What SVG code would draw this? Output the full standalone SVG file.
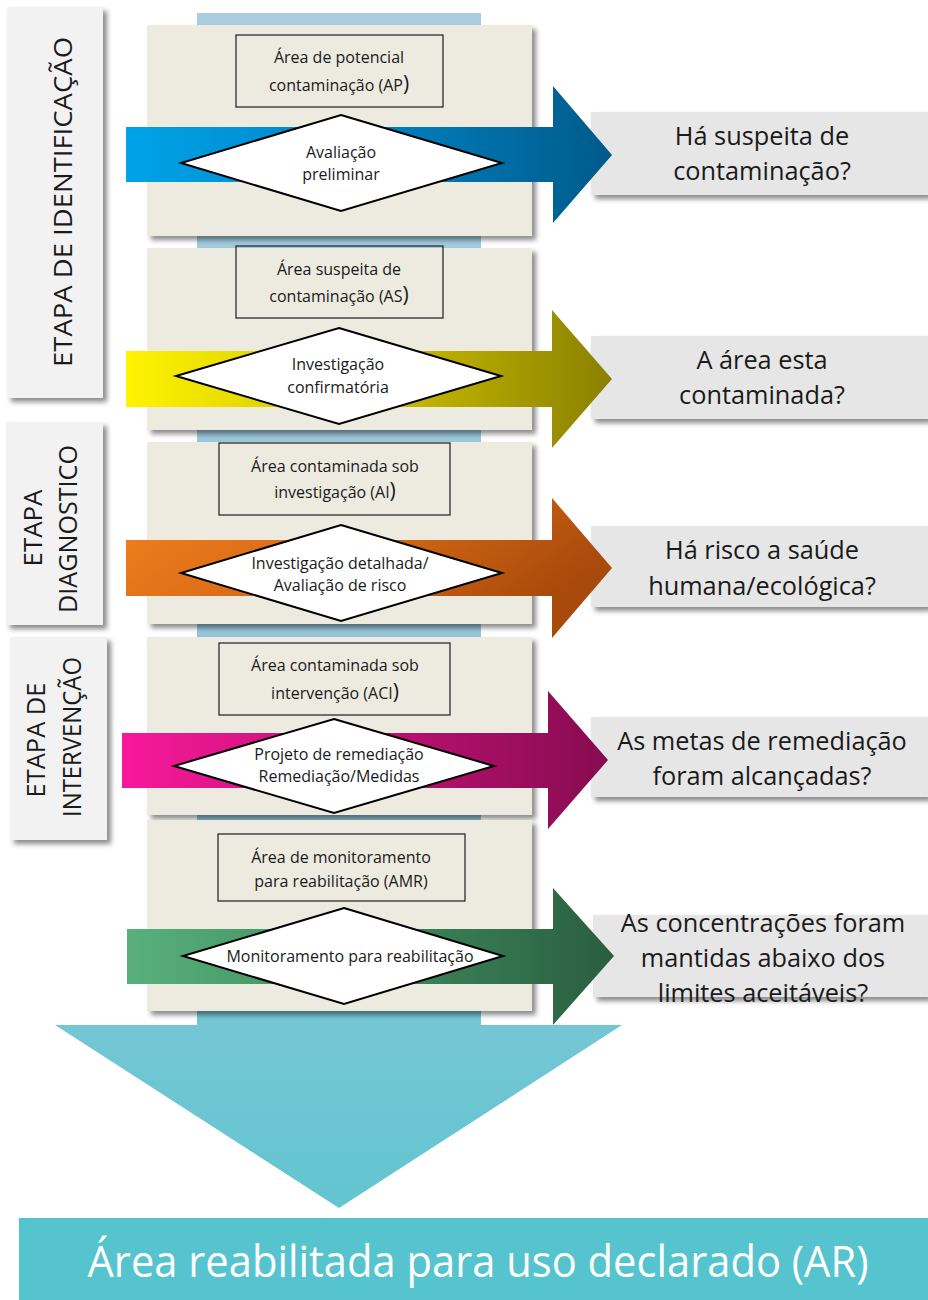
<svg xmlns="http://www.w3.org/2000/svg" width="928" height="1300" viewBox="0 0 928 1300">
<defs>
<style>
.t{font-family:"Open Sans","Noto Sans","Liberation Sans",sans-serif;fill:#1a1a1a;text-anchor:middle}
.s{font-size:16px}
.q{font-size:25.3px}
.lab{font-size:26px}
.panel{fill:#edeae0}
.box{fill:none;stroke:#2b2b2b;stroke-width:1.3}
.dia{fill:#fff;stroke:#000;stroke-width:2}
.qb{fill:#e6e6e6}
.lb{fill:#f2f2f2}
</style>
<filter id="sh" x="-10%" y="-10%" width="125%" height="130%">
<feDropShadow dx="4" dy="4" stdDeviation="2.5" flood-color="#000" flood-opacity="0.45"/>
</filter>
<linearGradient id="gBig" gradientUnits="userSpaceOnUse" x1="0" y1="13" x2="0" y2="1208">
<stop offset="0" stop-color="#abcde2"/>
<stop offset="0.7" stop-color="#8fc2d6"/>
<stop offset="0.85" stop-color="#74c6d4"/>
<stop offset="1" stop-color="#62c5d0"/>
</linearGradient>
<linearGradient id="g1"><stop offset="0" stop-color="#00a3e8"/><stop offset="0.5" stop-color="#0082c2"/><stop offset="1" stop-color="#005a8a"/></linearGradient>
<linearGradient id="g2"><stop offset="0" stop-color="#fff300"/><stop offset="0.55" stop-color="#c8bb00"/><stop offset="1" stop-color="#8a8000"/></linearGradient>
<linearGradient id="g3" x1="0" y1="0" x2="1" y2="0.4"><stop offset="0" stop-color="#f28020"/><stop offset="0.5" stop-color="#d86a14"/><stop offset="1" stop-color="#a84a0c"/></linearGradient>
<linearGradient id="g4"><stop offset="0" stop-color="#f7199a"/><stop offset="0.5" stop-color="#c01275"/><stop offset="1" stop-color="#870b50"/></linearGradient>
<linearGradient id="g5"><stop offset="0" stop-color="#58b07c"/><stop offset="0.5" stop-color="#3e8a5c"/><stop offset="1" stop-color="#2a5e40"/></linearGradient>
</defs>

<rect width="928" height="1300" fill="#fff"/>

<g id="connectors">
<polygon id="big-arrow" points="197,13 481,13 481,1025 622,1025 339,1208 55,1025 197,1025" fill="url(#gBig)"/>
</g>

<g id="stage-identificacao">
<rect class="lb" x="7" y="7" width="96" height="391" filter="url(#sh)"/>
<text class="t lab" transform="translate(72,202) rotate(-90)" textLength="330" lengthAdjust="spacingAndGlyphs">ETAPA DE IDENTIFICAÇÃO</text>
</g>
<g id="stage-diagnostico">
<rect class="lb" x="6" y="422" width="97" height="203" filter="url(#sh)"/>
<text class="t lab" transform="translate(42,528) rotate(-90)" textLength="77" lengthAdjust="spacingAndGlyphs">ETAPA</text>
<text class="t lab" transform="translate(77,529) rotate(-90)" textLength="168" lengthAdjust="spacingAndGlyphs">DIAGNOSTICO</text>
</g>
<g id="stage-intervencao">
<rect class="lb" x="10" y="637" width="97" height="203" filter="url(#sh)"/>
<text class="t lab" transform="translate(45,740) rotate(-90)" textLength="115" lengthAdjust="spacingAndGlyphs">ETAPA DE</text>
<text class="t lab" transform="translate(81,737) rotate(-90)" textLength="160" lengthAdjust="spacingAndGlyphs">INTERVENÇÃO</text>
</g>

<g id="q1"><rect class="qb" x="591" y="112" width="337" height="83" filter="url(#sh)"/>
<text class="t q" x="762" y="145">Há suspeita de</text><text class="t q" x="762" y="180">contaminação?</text></g>
<g id="q2"><rect class="qb" x="591" y="336" width="337" height="83" filter="url(#sh)"/>
<text class="t q" x="762" y="369">A área esta</text><text class="t q" x="762" y="404">contaminada?</text></g>
<g id="q3"><rect class="qb" x="591" y="526" width="337" height="81" filter="url(#sh)"/>
<text class="t q" x="762" y="559">Há risco a saúde</text><text class="t q" x="762" y="595">humana/ecológica?</text></g>
<g id="q4"><rect class="qb" x="591" y="717" width="337" height="80" filter="url(#sh)"/>
<text class="t q" x="762" y="750">As metas de remediação</text><text class="t q" x="762" y="785">foram alcançadas?</text></g>
<g id="q5"><rect class="qb" x="593" y="915" width="335" height="82" filter="url(#sh)"/>
<text class="t q" x="763" y="932">As concentrações foram</text><text class="t q" x="763" y="967">mantidas abaixo dos</text><text class="t q" x="763" y="1002">limites aceitáveis?</text></g>

<g id="panel-ap">
<rect class="panel" x="147" y="25" width="385" height="211" filter="url(#sh)"/>
<rect class="box" x="236" y="35" width="207" height="72"/>
<text class="t s" x="339" y="63">Área de potencial</text>
<text class="t s" x="339" y="91">contaminação (AP<tspan font-size="21">)</tspan></text>
<polygon points="126,127 553,127 553,86 612,155 553,223 553,182 126,182" fill="url(#g1)"/>
<polygon class="dia" points="341,115 502,163 341,211 181,163"/>
<text class="t s" x="341" y="158">Avaliação</text>
<text class="t s" x="341" y="180">preliminar</text>
</g>

<g id="panel-as">
<rect class="panel" x="147" y="248" width="385" height="182" filter="url(#sh)"/>
<rect class="box" x="236" y="246" width="207" height="72"/>
<text class="t s" x="339" y="275">Área suspeita de</text>
<text class="t s" x="339" y="302">contaminação (AS<tspan font-size="21">)</tspan></text>
<polygon points="126,351 552,351 552,310 612,379 552,448 552,407 126,407" fill="url(#g2)"/>
<polygon class="dia" points="339,328 501,376 339,424 176,376"/>
<text class="t s" x="338" y="370">Investigação</text>
<text class="t s" x="338" y="393">confirmatória</text>
</g>

<g id="panel-ai">
<rect class="panel" x="147" y="442" width="385" height="182" filter="url(#sh)"/>
<rect class="box" x="219" y="443" width="231" height="72"/>
<text class="t s" x="335" y="472">Área contaminada sob</text>
<text class="t s" x="335" y="498">investigação (AI<tspan font-size="21">)</tspan></text>
<polygon points="126,540 552,540 552,498 612,568 552,638 552,596 126,596" fill="url(#g3)"/>
<polygon class="dia" points="341,525 502,573 341,621 181,573"/>
<text class="t s" x="340" y="569">Investigação detalhada/</text>
<text class="t s" x="340" y="591">Avaliação de risco</text>
</g>

<g id="panel-aci">
<rect class="panel" x="147" y="637" width="385" height="178" filter="url(#sh)"/>
<rect class="box" x="219" y="643" width="231" height="72"/>
<text class="t s" x="335" y="671">Área contaminada sob</text>
<text class="t s" x="335" y="699">intervenção (ACI<tspan font-size="21">)</tspan></text>
<polygon points="122,733 548,733 548,691 608,760 548,829 548,788 122,788" fill="url(#g4)"/>
<polygon class="dia" points="334,719 494,766 334,813 174,766"/>
<text class="t s" x="339" y="760">Projeto de remediação</text>
<text class="t s" x="339" y="782">Remediação/Medidas</text>
</g>

<g id="panel-amr">
<rect class="panel" x="147" y="820" width="385" height="191" filter="url(#sh)"/>
<rect class="box" x="218" y="834" width="247" height="67"/>
<text class="t s" x="341" y="863">Área de monitoramento</text>
<text class="t s" x="341" y="887">para reabilitação (AMR)</text>
<polygon points="127,929 553,929 553,888 614,956 553,1025 553,984 127,984" fill="url(#g5)"/>
<polygon class="dia" points="344,908 503,956 344,1004 183,956"/>
<text class="t s" x="350" y="962">Monitoramento para reabilitação</text>
</g>

<g id="result-ar">
<rect x="19" y="1218" width="909" height="82" fill="#56c4cf"/>
<text class="t" x="478" y="1277" font-size="44" fill="#fff" style="fill:#fff" textLength="781" lengthAdjust="spacingAndGlyphs">Área reabilitada para uso declarado (AR)</text>
</g>
</svg>
